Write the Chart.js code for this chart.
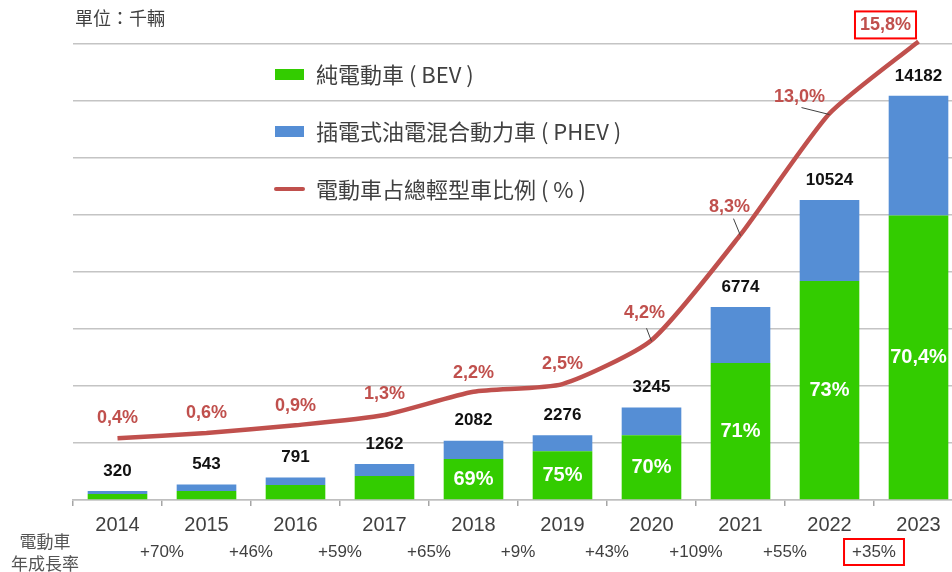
<!DOCTYPE html>
<html>
<head>
<meta charset="utf-8">
<script src="https://cdn.jsdelivr.net/npm/chart.js@4.4.9/dist/chart.umd.min.js"></script>
<style>
  html, body { margin: 0; padding: 0; background: #fff; overflow: hidden; }
  #wrap { width: 952px; height: 572px; overflow: hidden; }
  canvas { display: block; }
</style>
</head>
<body>
<div id="wrap"><canvas id="evChart" width="965" height="572"></canvas></div>
<script>
// data (thousand vehicles)
const years = ['2014', '2015', '2016', '2017', '2018', '2019', '2020', '2021', '2022', '2023'];
const bev = [210, 320, 530, 840, 1437, 1707, 2272, 4810, 7683, 9984];
const phev = [110, 223, 261, 422, 645, 569, 973, 1964, 2841, 4198];
const evShare = [0.4, 0.6, 0.9, 1.3, 2.2, 2.5, 4.2, 8.3, 13.0, 15.8];
const bevShareLabels = [null, null, null, null, '69%', '75%', '70%', '71%', '73%', '70,4%'];
const growth = ['+70%', '+46%', '+59%', '+65%', '+9%', '+43%', '+109%', '+55%', '+35%'];

const CJK = '"Noto Sans CJK TC", "Noto Sans CJK SC", sans-serif';
const ARIAL = '"Liberation Sans", Arial, sans-serif';
const RED = '#c0504d';
const GREY_TEXT = '#404040';

// label offsets for the share line (relative to point)
const shareOffsets = [[0, -20], [0, -20], [0, -19], [0, -21], [0, -19], [0, -20], [-7, -27], [-11, -28], [-30, -17], [-33, -16]];
const leaders = { 6: [-5, -12], 7: [-7, -16], 8: [-28, -6] };

function fmtPct(v) {
    return v.toFixed(1).replace('.', ',') + '%';
}

const labelsPlugin = {
    id: 'evLabels',
    afterDatasetsDraw(chart) {
        const ctx = chart.ctx;
        const bevMeta = chart.getDatasetMeta(0);
        const phevMeta = chart.getDatasetMeta(1);
        const lineMeta = chart.getDatasetMeta(2);
        ctx.save();
        ctx.textAlign = 'center';
        ctx.textBaseline = 'middle';

        // totals above bars
        ctx.font = 'bold 17px ' + ARIAL;
        ctx.fillStyle = '#111';
        phevMeta.data.forEach((bar, i) => {
            ctx.fillText(String(bev[i] + phev[i]), bar.x, bar.y - 20);
        });

        // BEV share inside green bars
        ctx.font = 'bold 20px ' + ARIAL;
        ctx.fillStyle = '#fff';
        bevMeta.data.forEach((bar, i) => {
            if (!bevShareLabels[i]) return;
            ctx.fillText(bevShareLabels[i], bar.x, (bar.y + bar.base) / 2);
        });

        // leader lines
        ctx.strokeStyle = GREY_TEXT;
        ctx.lineWidth = 1;
        Object.keys(leaders).forEach(k => {
            const p = lineMeta.data[k];
            const d = leaders[k];
            ctx.beginPath();
            ctx.moveTo(p.x + d[0], p.y + d[1]);
            ctx.lineTo(p.x, p.y + 1);
            ctx.stroke();
        });

        // share labels
        ctx.font = 'bold 18px ' + ARIAL;
        ctx.fillStyle = RED;
        lineMeta.data.forEach((pt, i) => {
            const o = shareOffsets[i];
            ctx.fillText(fmtPct(evShare[i]), pt.x + o[0], pt.y + o[1]);
        });

        // red box around last value
        const last = lineMeta.data[lineMeta.data.length - 1];
        const lo = shareOffsets[shareOffsets.length - 1];
        const tw = ctx.measureText(fmtPct(evShare[evShare.length - 1])).width;
        ctx.strokeStyle = '#ff0000';
        ctx.lineWidth = 2;
        ctx.strokeRect(last.x + lo[0] - tw / 2 - 5, last.y + lo[1] - 14, tw + 10, 27);
        ctx.restore();
    },
    afterDraw(chart) {
        const ctx = chart.ctx;
        const xs = chart.scales.x;
        ctx.save();

        // unit
        ctx.font = '18px ' + CJK;
        ctx.fillStyle = GREY_TEXT;
        ctx.textAlign = 'left';
        ctx.textBaseline = 'middle';
        ctx.fillText('單位：千輛', 75, 18);

        // legend
        const ds = chart.data.datasets;
        const rows = [74, 131, 189];
        ctx.font = '22px ' + CJK;
        ds.forEach((d, i) => {
            const y = rows[i];
            if (d.type === 'line') {
                ctx.strokeStyle = d.borderColor;
                ctx.lineWidth = 4;
                ctx.lineCap = 'round';
                ctx.beginPath();
                ctx.moveTo(276, y);
                ctx.lineTo(303, y);
                ctx.stroke();
            } else {
                ctx.fillStyle = d.backgroundColor;
                ctx.fillRect(275, y - 5, 29, 11);
            }
            ctx.fillStyle = GREY_TEXT;
            ctx.fillText(d.label, 316, y + 1);
        });

        // growth row
        ctx.textAlign = 'center';
        ctx.font = '17px ' + CJK;
        ctx.fillStyle = '#555';
        ctx.fillText('電動車', 45, 542);
        ctx.fillText('年成長率', 45, 564);
        ctx.font = '17px ' + ARIAL;
        ctx.fillStyle = GREY_TEXT;
        growth.forEach((g, i) => {
            const x = (xs.getPixelForValue(i) + xs.getPixelForValue(i + 1)) / 2;
            ctx.fillText(g, x, 552);
            if (i === growth.length - 1) {
                const w = ctx.measureText(g).width;
                ctx.strokeStyle = '#ff0000';
                ctx.lineWidth = 2;
                ctx.strokeRect(x - w / 2 - 8, 539, w + 16, 26);
            }
        });
        ctx.restore();
    }
};

const ctx = document.getElementById('evChart').getContext('2d');
new Chart(ctx, {
    data: {
        labels: years,
        datasets: [
            {
                type: 'bar',
                label: '純電動車 ( BEV )',
                data: bev,
                backgroundColor: '#33cc00',
                barPercentage: 0.67,
                categoryPercentage: 1,
                yAxisID: 'y',
                order: 2
            },
            {
                type: 'bar',
                label: '插電式油電混合動力車 ( PHEV )',
                data: phev,
                backgroundColor: '#558ed5',
                barPercentage: 0.67,
                categoryPercentage: 1,
                yAxisID: 'y',
                order: 2
            },
            {
                type: 'line',
                label: '電動車占總輕型車比例 ( % )',
                data: evShare,
                borderColor: RED,
                borderWidth: 4.5,
                pointRadius: 0,
                tension: 0.2,
                clip: false,
                yAxisID: 'y1',
                order: 0
            }
        ]
    },
    options: {
        responsive: false,
        animation: false,
        layout: { padding: { left: 73, top: 44, right: 2, bottom: 0 } },
        plugins: {
            legend: { display: false },
            tooltip: { enabled: false }
        },
        scales: {
            x: {
                stacked: true,
                afterFit: (scale) => { scale.height = 72; },
                border: { color: '#bfbfbf', width: 1.5 },
                grid: { drawOnChartArea: false, tickLength: 6, color: '#a6a6a6', lineWidth: 1.5 },
                ticks: { color: GREY_TEXT, font: { family: ARIAL, size: 20 }, padding: 7 }
            },
            y: {
                stacked: true,
                min: 0,
                max: 16000,
                afterFit: (scale) => { scale.width = 0; },
                border: { display: false },
                grid: { color: '#c4c4c4', lineWidth: 1.5, drawTicks: false },
                ticks: { display: false, stepSize: 2000 }
            },
            y1: {
                display: false,
                min: -2,
                max: 15.7
            }
        }
    },
    plugins: [labelsPlugin]
});
</script>
</body>
</html>
